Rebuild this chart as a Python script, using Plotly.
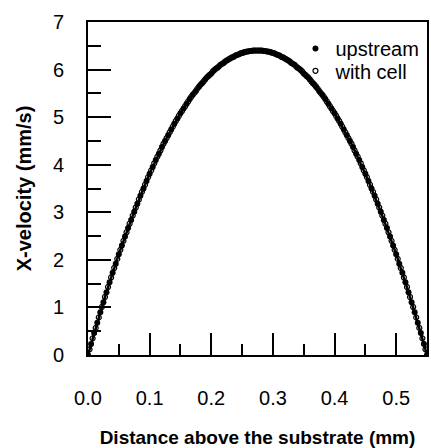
import plotly.graph_objects as go

# upstream profile: distance above substrate (mm) vs x-velocity (mm/s)
upstream_x = [0.000, 0.005, 0.010, 0.015, 0.020, 0.025, 0.030, 0.035, 0.040, 0.045,
              0.050, 0.055, 0.060, 0.065, 0.070, 0.075, 0.080, 0.085, 0.090, 0.095,
              0.100, 0.105, 0.110, 0.115, 0.120, 0.125, 0.130, 0.135, 0.140, 0.145,
              0.150, 0.155, 0.160, 0.165, 0.170, 0.175, 0.180, 0.185, 0.190, 0.195,
              0.200, 0.205, 0.210, 0.215, 0.220, 0.225, 0.230, 0.235, 0.240, 0.245,
              0.250, 0.255, 0.260, 0.265, 0.270, 0.275, 0.280, 0.285, 0.290, 0.295,
              0.300, 0.305, 0.310, 0.315, 0.320, 0.325, 0.330, 0.335, 0.340, 0.345,
              0.350, 0.355, 0.360, 0.365, 0.370, 0.375, 0.380, 0.385, 0.390, 0.395,
              0.400, 0.405, 0.410, 0.415, 0.420, 0.425, 0.430, 0.435, 0.440, 0.445,
              0.450, 0.455, 0.460, 0.465, 0.470, 0.475, 0.480, 0.485, 0.490, 0.495,
              0.500, 0.505, 0.510, 0.515, 0.520, 0.525, 0.530, 0.535, 0.540, 0.545,
              0.550]

upstream_v = [0.00, 0.23, 0.46, 0.68, 0.90, 1.11, 1.32, 1.53, 1.73, 1.92,
              2.12, 2.30, 2.49, 2.67, 2.84, 3.01, 3.18, 3.35, 3.50, 3.66,
              3.81, 3.95, 4.10, 4.23, 4.37, 4.50, 4.62, 4.74, 4.86, 4.97,
              5.08, 5.18, 5.28, 5.38, 5.47, 5.55, 5.64, 5.71, 5.79, 5.86,
              5.92, 5.99, 6.04, 6.10, 6.14, 6.19, 6.23, 6.26, 6.30, 6.32,
              6.35, 6.37, 6.38, 6.39, 6.40, 6.40, 6.40, 6.39, 6.38, 6.37,
              6.35, 6.32, 6.30, 6.26, 6.23, 6.19, 6.14, 6.10, 6.04, 5.99,
              5.92, 5.86, 5.79, 5.71, 5.64, 5.55, 5.47, 5.38, 5.28, 5.18,
              5.08, 4.97, 4.86, 4.74, 4.62, 4.50, 4.37, 4.23, 4.10, 3.95,
              3.81, 3.66, 3.50, 3.35, 3.18, 3.01, 2.84, 2.67, 2.49, 2.30,
              2.12, 1.92, 1.73, 1.53, 1.32, 1.11, 0.90, 0.68, 0.46, 0.23,
              0.00]

# with-cell profile
with_cell_x = [0.0025, 0.0075, 0.0125, 0.0175, 0.0225, 0.0275, 0.0325, 0.0375, 0.0425, 0.0475,
               0.0525, 0.0575, 0.0625, 0.0675, 0.0725, 0.0775, 0.0825, 0.0875, 0.0925, 0.0975,
               0.1025, 0.1075, 0.1125, 0.1175, 0.1225, 0.1275, 0.1325, 0.1375, 0.1425, 0.1475,
               0.1525, 0.1575, 0.1625, 0.1675, 0.1725, 0.1775, 0.1825, 0.1875, 0.1925, 0.1975,
               0.2025, 0.2075, 0.2125, 0.2175, 0.2225, 0.2275, 0.2325, 0.2375, 0.2425, 0.2475,
               0.2525, 0.2575, 0.2625, 0.2675, 0.2725, 0.2775, 0.2825, 0.2875, 0.2925, 0.2975,
               0.3025, 0.3075, 0.3125, 0.3175, 0.3225, 0.3275, 0.3325, 0.3375, 0.3425, 0.3475,
               0.3525, 0.3575, 0.3625, 0.3675, 0.3725, 0.3775, 0.3825, 0.3875, 0.3925, 0.3975,
               0.4025, 0.4075, 0.4125, 0.4175, 0.4225, 0.4275, 0.4325, 0.4375, 0.4425, 0.4475,
               0.4525, 0.4575, 0.4625, 0.4675, 0.4725, 0.4775, 0.4825, 0.4875, 0.4925, 0.4975,
               0.5025, 0.5075, 0.5125, 0.5175, 0.5225, 0.5275, 0.5325, 0.5375, 0.5425, 0.5475]

with_cell_v = [0.12, 0.35, 0.57, 0.79, 1.01, 1.22, 1.43, 1.63, 1.83, 2.02,
               2.21, 2.40, 2.58, 2.76, 2.93, 3.10, 3.27, 3.43, 3.58, 3.74,
               3.88, 4.03, 4.17, 4.30, 4.44, 4.56, 4.68, 4.80, 4.92, 5.03,
               5.13, 5.23, 5.33, 5.43, 5.51, 5.60, 5.68, 5.75, 5.83, 5.89,
               5.96, 6.02, 6.07, 6.12, 6.17, 6.21, 6.25, 6.28, 6.31, 6.34,
               6.36, 6.38, 6.39, 6.40, 6.40, 6.40, 6.40, 6.39, 6.38, 6.36,
               6.34, 6.31, 6.28, 6.25, 6.21, 6.17, 6.12, 6.07, 6.02, 5.96,
               5.89, 5.83, 5.75, 5.68, 5.60, 5.51, 5.43, 5.33, 5.23, 5.13,
               5.03, 4.92, 4.80, 4.68, 4.56, 4.44, 4.30, 4.17, 4.03, 3.88,
               3.74, 3.58, 3.43, 3.27, 3.10, 2.93, 2.76, 2.58, 2.40, 2.21,
               2.02, 1.83, 1.63, 1.43, 1.22, 1.01, 0.79, 0.57, 0.35, 0.12]

x_ticks = [0.0, 0.1, 0.2, 0.3, 0.4, 0.5]
x_tick_labels = ["0.0", "0.1", "0.2", "0.3", "0.4", "0.5"]
y_ticks = [0, 1, 2, 3, 4, 5, 6, 7]
y_tick_labels = ["0", "1", "2", "3", "4", "5", "6", "7"]

FONT = "Arial, Liberation Sans, sans-serif"

fig = go.Figure()
# dense upstream points joined so the profile reads as a continuous band
fig.add_trace(go.Scatter(
    x=upstream_x, y=upstream_v, mode="lines",
    line=dict(color="black", width=2.5),
    showlegend=False, hoverinfo="skip",
))
fig.add_trace(go.Scatter(
    x=upstream_x, y=upstream_v, mode="markers", name="upstream",
    marker=dict(symbol="circle", size=6, color="black"),
    legend="legend",
))
fig.add_trace(go.Scatter(
    x=with_cell_x, y=with_cell_v, mode="markers", name="with cell",
    marker=dict(symbol="circle-open", size=5, color="black", line=dict(width=1.2)),
    legend="legend2",
))

leg_common = dict(xanchor="left", yanchor="top",
                  bgcolor="rgba(0,0,0,0)",
                  font=dict(size=20, family=FONT, color="black"),
                  itemsizing="trace", itemwidth=30, borderwidth=0)

fig.update_layout(
    width=431, height=448,
    margin=dict(l=88, r=2, t=22, b=92),
    paper_bgcolor="white", plot_bgcolor="white",
    font=dict(family=FONT, size=20, color="black"),
    showlegend=True,
    legend=dict(x=0.612, y=0.979, **leg_common),
    legend2=dict(x=0.612, y=0.912, **leg_common),
    xaxis=dict(
        range=[0, 0.55], tickvals=x_ticks, ticktext=x_tick_labels,
        showgrid=False, zeroline=False,
        showline=True, linecolor="black", linewidth=2, mirror=True,
        ticks="inside", ticklen=22, tickwidth=2, tickcolor="black",
        minor=dict(dtick=0.05, ticks="inside", ticklen=11, tickwidth=2, tickcolor="black", showgrid=False),
        ticklabelstandoff=24,
        title=dict(text="<b>Distance above the substrate (mm)</b>", font=dict(size=19), standoff=24),
    ),
    yaxis=dict(
        range=[0, 7], tickvals=y_ticks, ticktext=y_tick_labels,
        showgrid=False, zeroline=False,
        showline=True, linecolor="black", linewidth=2, mirror=True,
        ticks="inside", ticklen=23, tickwidth=2, tickcolor="black",
        minor=dict(dtick=0.5, ticks="inside", ticklen=13, tickwidth=2, tickcolor="black", showgrid=False),
        ticklabelstandoff=18,
        title=dict(text="<b>X-velocity (mm/s)</b>", font=dict(size=20), standoff=16),
    ),
)

fig.write_html("out.html")
